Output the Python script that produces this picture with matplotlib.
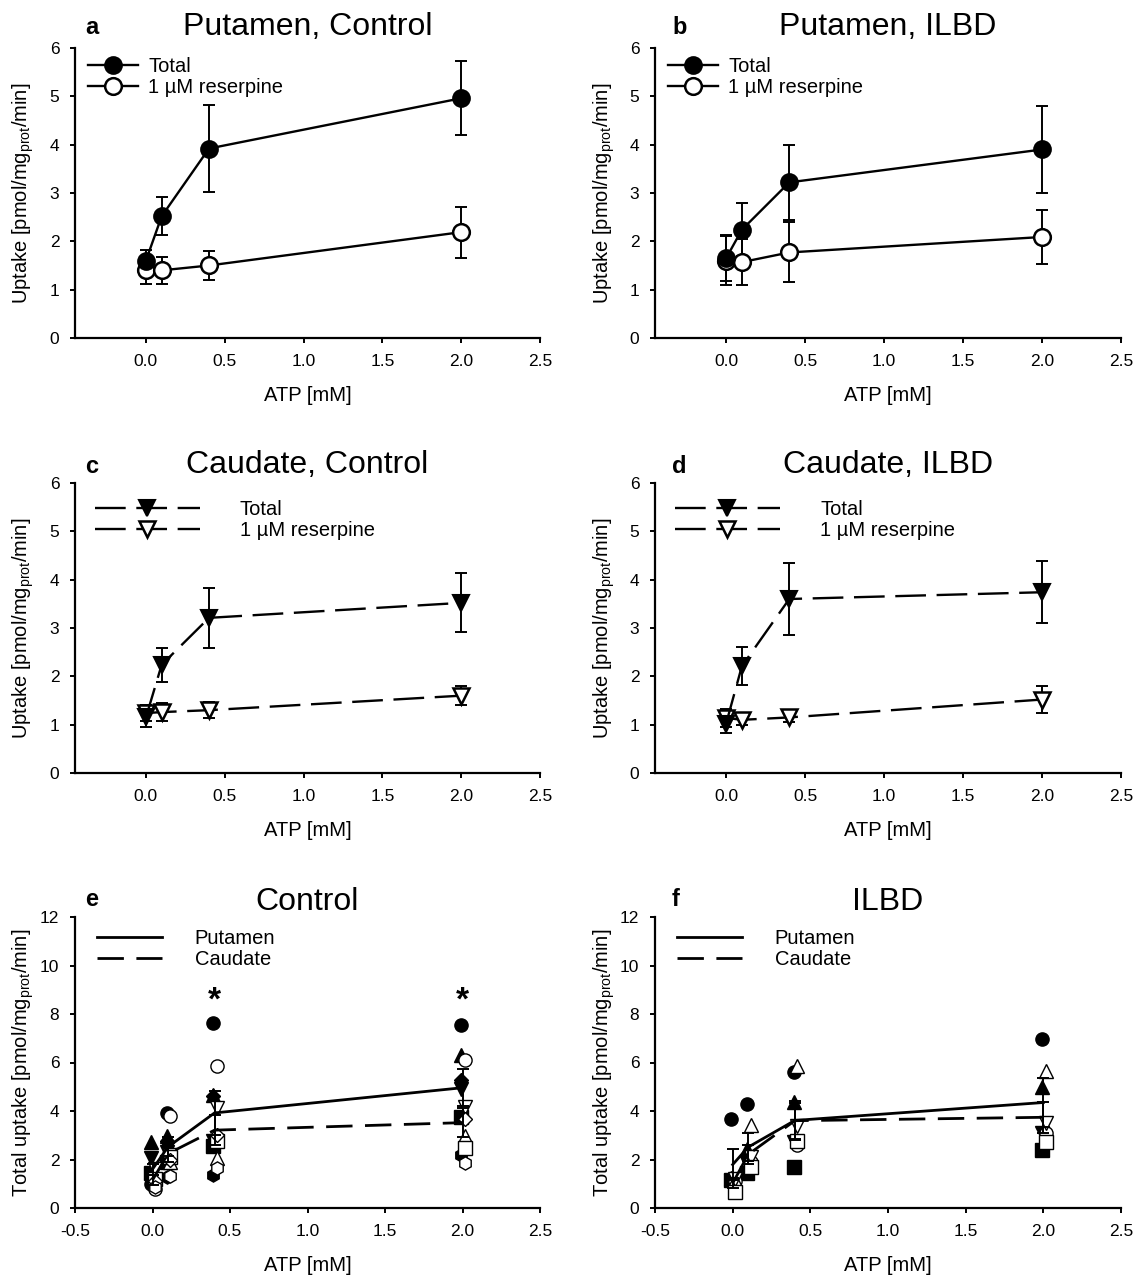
import matplotlib.pyplot as plt
from matplotlib.ticker import FormatStrFormatter

plt.rcParams['font.family'] = ['Liberation Sans', 'DejaVu Sans']
plt.rcParams['mathtext.fontset'] = 'custom'
plt.rcParams['mathtext.rm'] = 'Liberation Sans'
plt.rcParams['mathtext.it'] = 'Liberation Sans:italic'
plt.rcParams['mathtext.bf'] = 'Liberation Sans:bold'
plt.rcParams['mathtext.default'] = 'rm'

# ATP concentrations [mM]
atp = [0.0, 0.1, 0.4, 2.0]

# a: putamen, control
put_ctrl_total = [1.60, 2.52, 3.92, 4.96]
put_ctrl_total_err = [0.23, 0.39, 0.90, 0.77]
put_ctrl_res = [1.41, 1.40, 1.50, 2.19]
put_ctrl_res_err = [0.29, 0.28, 0.29, 0.53]

# b: putamen, ILBD
put_ilbd_total = [1.65, 2.24, 3.22, 3.90]
put_ilbd_total_err = [0.48, 0.55, 0.77, 0.91]
put_ilbd_res = [1.60, 1.57, 1.77, 2.09]
put_ilbd_res_err = [0.50, 0.48, 0.62, 0.55]

# c: caudate, control
cau_ctrl_total = [1.15, 2.24, 3.21, 3.52]
cau_ctrl_total_err = [0.20, 0.35, 0.62, 0.61]
cau_ctrl_res = [1.24, 1.26, 1.30, 1.60]
cau_ctrl_res_err = [0.17, 0.19, 0.17, 0.19]

# d: caudate, ILBD
cau_ilbd_total = [1.02, 2.21, 3.60, 3.74]
cau_ilbd_total_err = [0.20, 0.39, 0.75, 0.64]
cau_ilbd_res = [1.14, 1.10, 1.15, 1.52]
cau_ilbd_res_err = [0.18, 0.10, 0.10, 0.28]

# e: individual control subjects, one row per subject (same shape in both regions)
ctrl_shapes = ['o', '^', 'v', 's', 'D', 'h']
ctrl_put_pts = [
    [1.00, 3.91, 7.64, 7.55],
    [2.72, 2.95, 4.65, 6.31],
    [2.05, 2.30, 2.75, 4.90],
    [1.45, 1.90, 2.55, 3.75],
    [1.30, 2.75, 4.60, 5.28],
    [1.10, 1.29, 1.36, 2.18],
]
ctrl_cau_pts = [
    [0.80, 3.80, 5.84, 6.10],
    [1.40, 1.90, 2.05, 2.95],
    [1.60, 2.20, 4.12, 4.18],
    [1.20, 2.10, 2.75, 2.47],
    [1.10, 2.00, 3.01, 3.65],
    [0.85, 1.30, 1.65, 1.85],
]
ctrl_signif_x = [0.4, 2.0]
ctrl_signif_y = 8.55

# f: individual ILBD subjects
ilbd_shapes = ['o', '^', 'v', 's']
ilbd_put_pts = [
    [3.66, 4.28, 5.62, 6.96],
    [1.25, 2.45, 4.39, 4.98],
    [1.10, 1.85, 2.74, 3.08],
    [1.15, 1.45, 1.70, 2.39],
]
ilbd_cau_pts = [
    [1.10, 1.90, 2.60, 3.10],
    [1.15, 3.42, 5.84, 5.66],
    [1.20, 2.10, 3.38, 3.52],
    [0.67, 1.70, 2.78, 2.73],
]
ilbd_put_mean = [1.79, 2.51, 3.61, 4.35]
ilbd_put_err = [0.63, 0.57, 0.80, 1.00]

ylab_uptake = 'Uptake [pmol/mg$_{prot}$/min]'
ylab_total = 'Total uptake [pmol/mg$_{prot}$/min]'
xlab = 'ATP [mM]'

W, H = 1135, 1279
fig = plt.figure(figsize=(W / 100, H / 100), dpi=100)

col_px = [(75, 540), (655, 1121)]
row_px = [(48, 338), (483, 773), (917, 1208)]


def make_axes(col, row):
    x0, x1 = col_px[col]
    y0, y1 = row_px[row]
    return fig.add_axes([x0 / W, 1 - y1 / H, (x1 - x0) / W, (y1 - y0) / H])


def style(ax, col, row, xmin, ymax, ystep, letter, title, title_pad, ylabel):
    ax.set_xlim(xmin, 2.5)
    ax.set_ylim(0, ymax)
    ax.set_yticks(range(0, ymax + 1, ystep))
    ticks = [t / 2 for t in range(-1, 6)] if xmin <= -0.5 else [t / 2 for t in range(0, 6)]
    ax.set_xticks(ticks)
    ax.xaxis.set_major_formatter(FormatStrFormatter('%.1f'))
    for s in ['top', 'right']:
        ax.spines[s].set_visible(False)
    for s in ['left', 'bottom']:
        ax.spines[s].set_linewidth(1.6)
    ax.tick_params(direction='out', length=3.8, width=1.4, labelsize=12.5, pad=7.5)
    ax.set_title(title, fontsize=23, pad=title_pad)
    ax.set_xlabel(xlab, fontsize=14.5)
    ax.set_ylabel(ylabel, fontsize=14.5)
    x0, x1 = col_px[col]
    y0, y1 = row_px[row]
    lab_x = 36 if col == 0 else 617
    ax.yaxis.set_label_coords((lab_x - x0) / (x1 - x0), 0.5)
    ax.xaxis.set_label_coords(0.5, -(48) / (y1 - y0))
    let_x = 85 if col == 0 else 672
    let_y = {0: 34, 1: 473, 2: 906}[row]
    ax.text((let_x - x0) / (x1 - x0), 1 + (y0 - let_y) / (y1 - y0), letter,
            transform=ax.transAxes, fontsize=17, fontweight='bold',
            ha='left', va='baseline')


def uptake_panel(ax, total, total_err, res, res_err, mk, dashed):
    ls = dict(dashes=(13, 4.5)) if dashed else dict(linestyle='-')
    ax.errorbar(atp, total, yerr=total_err, fmt='none', ecolor='black',
                elinewidth=1.4, capsize=4.2, capthick=1.4, zorder=2)
    ax.errorbar(atp, res, yerr=res_err, fmt='none', ecolor='black',
                elinewidth=1.4, capsize=4.2, capthick=1.4, zorder=2)
    ax.plot(atp, total, color='black', lw=1.7, marker=mk, ms=12,
            mfc='black', mec='black', mew=1.5, label='Total', zorder=4, **ls)
    ax.plot(atp, res, color='black', lw=1.7, marker=mk, ms=12,
            mfc='white', mec='black', mew=1.8, label='1 µM reserpine', zorder=3, **ls)
    if dashed:
        ax.legend(loc='upper left', bbox_to_anchor=(0.043, 0.94), frameon=False,
                  fontsize=14.5, handlelength=5.2, handletextpad=2.0,
                  labelspacing=0.1, borderpad=0, borderaxespad=0, numpoints=1)
    else:
        ax.legend(loc='upper left', bbox_to_anchor=(0.028, 0.97), frameon=False,
                  fontsize=14.5, handlelength=2.5, handletextpad=0.5,
                  labelspacing=0.1, borderpad=0, borderaxespad=0, numpoints=1)


def individual_panel(ax, shapes, put_pts, cau_pts, put_mean, put_err, cau_mean, cau_err):
    for shp, row in zip(shapes, put_pts):
        ax.plot([a - 0.008 for a in atp], row, linestyle='none', marker=shp,
                ms=9.5 if shp != 'D' else 7.5, mfc='black', mec='black', mew=1.0, zorder=3)
    for shp, row in zip(shapes, cau_pts):
        ax.plot([a + 0.015 for a in atp], row, linestyle='none', marker=shp,
                ms=9.5 if shp != 'D' else 7.5, mfc='white', mec='black', mew=1.0, zorder=3)
    ax.errorbar(atp, put_mean, yerr=put_err, fmt='none', ecolor='black',
                elinewidth=1.4, capsize=4.2, capthick=1.4, zorder=4)
    ax.errorbar(atp, cau_mean, yerr=cau_err, fmt='none', ecolor='black',
                elinewidth=1.4, capsize=4.2, capthick=1.4, zorder=4)
    ax.plot(atp, put_mean, color='black', lw=2.0, linestyle='-', label='Putamen', zorder=5)
    ax.plot(atp, cau_mean, color='black', lw=2.0, dashes=(9.5, 4.5), label='Caudate', zorder=5)
    ax.legend(loc='upper left', bbox_to_anchor=(0.047, 0.96), frameon=False,
              fontsize=14.5, handlelength=3.25, handletextpad=1.6,
              labelspacing=0.1, borderpad=0, borderaxespad=0)


ax_a = make_axes(0, 0)
uptake_panel(ax_a, put_ctrl_total, put_ctrl_total_err, put_ctrl_res, put_ctrl_res_err, 'o', False)
style(ax_a, 0, 0, -0.45, 6, 1, 'a', 'Putamen, Control', 9.4, ylab_uptake)

ax_b = make_axes(1, 0)
uptake_panel(ax_b, put_ilbd_total, put_ilbd_total_err, put_ilbd_res, put_ilbd_res_err, 'o', False)
style(ax_b, 1, 0, -0.45, 6, 1, 'b', 'Putamen, ILBD', 9.4, ylab_uptake)

ax_c = make_axes(0, 1)
uptake_panel(ax_c, cau_ctrl_total, cau_ctrl_total_err, cau_ctrl_res, cau_ctrl_res_err, 'v', True)
style(ax_c, 0, 1, -0.45, 6, 1, 'c', 'Caudate, Control', 7.2, ylab_uptake)

ax_d = make_axes(1, 1)
uptake_panel(ax_d, cau_ilbd_total, cau_ilbd_total_err, cau_ilbd_res, cau_ilbd_res_err, 'v', True)
style(ax_d, 1, 1, -0.45, 6, 1, 'd', 'Caudate, ILBD', 7.2, ylab_uptake)

ax_e = make_axes(0, 2)
individual_panel(ax_e, ctrl_shapes, ctrl_put_pts, ctrl_cau_pts,
                 put_ctrl_total, put_ctrl_total_err, cau_ctrl_total, cau_ctrl_total_err)
for sx in ctrl_signif_x:
    ax_e.text(sx, ctrl_signif_y, '*', fontsize=24, fontweight='bold',
              ha='center', va='center')
style(ax_e, 0, 2, -0.5, 12, 2, 'e', 'Control', 3.6, ylab_total)

ax_f = make_axes(1, 2)
individual_panel(ax_f, ilbd_shapes, ilbd_put_pts, ilbd_cau_pts,
                 ilbd_put_mean, ilbd_put_err, cau_ilbd_total, cau_ilbd_total_err)
style(ax_f, 1, 2, -0.5, 12, 2, 'f', 'ILBD', 3.6, ylab_total)

fig.savefig('out.png', dpi=100)
